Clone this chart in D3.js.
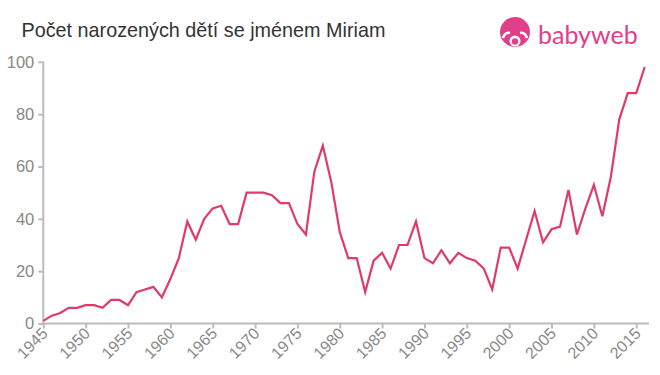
<!DOCTYPE html>
<html><head><meta charset="utf-8">
<script src="https://cdn.jsdelivr.net/npm/d3@7"></script>
<style>body{margin:0;background:#fff}svg{display:block}</style>
</head><body>
<script>
const years = d3.range(1945, 2017);
const values = [1,3,4,6,6,7,7,6,9,9,7,12,13,14,10,17,25,39,32,40,44,45,38,38,50,50,50,49,46,46,38,34,58,68,54,35,25,25,12,24,27,21,30,30,39,25,23,28,23,27,25,24,21,13,29,29,21,32,43,31,36,37,51,34,44,53,41,56,78,88,88,98];
const xTicks = d3.range(1945, 2016, 5);
const yTicks = [0,20,40,60,80,100];
const title = "Počet narozených dětí se jménem Miriam";

const W=660,H=375;
const FONT="Liberation Sans, Arial, Helvetica, sans-serif";
const svg=d3.select("body").append("svg").attr("width",W).attr("height",H);
const x=d3.scaleLinear().domain([1945,2016]).range([43.3,644.7]);
const y=d3.scaleLinear().domain([0,100]).range([323.5,61.8]);

svg.append("text").attr("x",21.5).attr("y",36.5).attr("font-family",FONT)
  .attr("font-size",19.8).attr("fill","#333").text(title);

// y axis
const ya=svg.append("g").attr("transform","translate(43.3,0)").call(d3.axisLeft(y).tickValues(yTicks).tickSize(5).tickPadding(4));
ya.attr("font-family",FONT).attr("font-size",16.5);
ya.select(".domain").attr("stroke","#bbb").attr("stroke-width",2).attr("d","M0,"+y(100)+"V"+y(0));
ya.selectAll(".tick line").attr("stroke","#bbb").attr("stroke-width",2);
ya.selectAll("text").attr("fill","#888");

// x axis
const xa=svg.append("g").attr("transform","translate(0,323.5)").call(d3.axisBottom(x).tickValues(xTicks).tickFormat(d3.format("d")).tickSize(5));
xa.attr("font-family",FONT).attr("font-size",16);
xa.select(".domain").attr("stroke","#bbb").attr("stroke-width",2).attr("d","M42.3,0H649");
xa.selectAll(".tick line").attr("stroke","#bbb").attr("stroke-width",2);
xa.selectAll("text").style("font-size","16px").attr("fill","#888")
  .attr("text-anchor","end").attr("dy",null).attr("y",0).attr("transform","translate(5,11) rotate(-45)");

// line
svg.append("path").datum(years.map((yr,i)=>[yr,values[i]]))
  .attr("fill","none").attr("stroke","#e03a6a").attr("stroke-width",2.2).attr("stroke-linejoin","miter")
  .attr("d",d3.line().x(d=>x(d[0])).y(d=>y(d[1])));

// logo
const lg=svg.append("g");
lg.append("circle").attr("cx",515).attr("cy",32).attr("r",15).attr("fill","#e0408a");
lg.append("circle").attr("cx",515).attr("cy",41).attr("r",5.5).attr("fill","#fff");
lg.append("path").attr("d","M503,38 q2,-6 7,-5 M527,38 q-2,-6 -7,-5").attr("stroke","#fff").attr("stroke-width",2.5).attr("fill","none");
lg.append("circle").attr("cx",515).attr("cy",41.5).attr("r",3.2).attr("fill","#e0408a");
lg.append("text").attr("x",538).attr("y",44).attr("font-family","Lato, Liberation Sans, sans-serif")
  .attr("font-size",25).attr("fill","#e0408a").text("babyweb");
</script>
</body></html>
